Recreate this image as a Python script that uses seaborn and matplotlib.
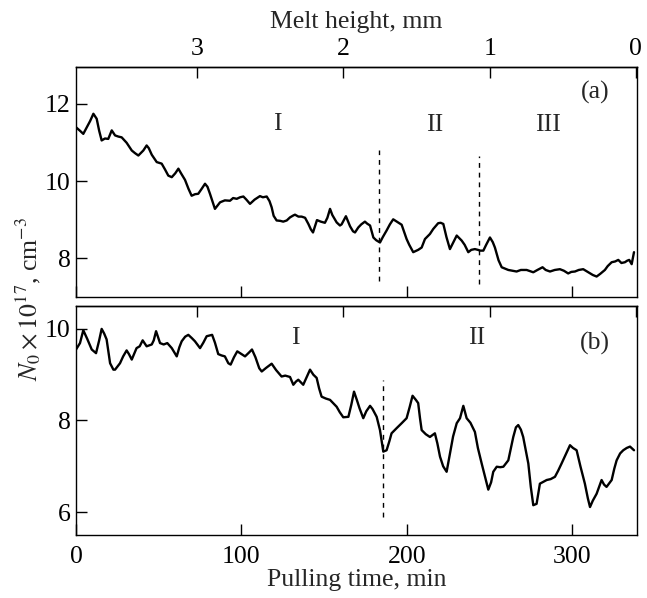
import matplotlib; matplotlib.use("Agg")
import matplotlib.pyplot as plt
import numpy as np
import seaborn as sns

# ──────────────────────────────────────────────────────────
# Data
# ──────────────────────────────────────────────────────────
time_a = [0, 2.4, 4.4, 6.5, 8.5, 10.5, 12.5, 14.0, 15.5, 17.5, 19.5, 21.6, 23.6, 25.6,
          27.6, 30.6, 33.7, 35.7, 37.7, 40.7, 42.7, 44.0, 45.8, 48.8, 51.8, 53.8, 55.8,
          57.9, 60, 61.9, 63.5, 65.9, 68, 69.9, 72, 73.9, 76, 78.0, 79.5, 81, 84, 87.1,
          90, 93.1, 95, 97.2, 99.2, 101.2, 103, 105.2, 108, 111.2, 113, 115.3, 117,
          118.3, 119.5, 121.3, 123.5, 125.3, 127.4, 129.4, 131.4, 132.4, 134.5, 136.4,
          138.5, 139.4, 140.5, 142, 143.3, 145.7, 148, 150.5, 152, 153.6, 155, 157.6,
          159.6, 160.6, 163.2, 165.7, 167.5, 168.7, 170.7, 172.5, 174.7, 176, 177.8,
          179.8, 181.5, 183.8, 185.5, 187.8, 189.8, 191.8, 194, 196.9, 199.9, 201.5,
          203.9, 206.9, 209, 211, 214, 216, 219, 220.5, 222.1, 224, 226.1, 228, 230.2,
          233.2, 235, 237.2, 239, 241.2, 243, 244.5, 246.3, 248, 250.3, 252, 253.3,
          255.5, 257.4, 261.4, 264, 266.4, 269, 272.5, 276.5, 279, 282.1, 284, 286.6,
          289.5, 292.6, 295, 297.6, 299.5, 301.7, 304, 306.7, 309, 310.8, 312.5, 314.8,
          317, 319.8, 321.5, 323.9, 326, 327.9, 329.8, 331.9, 333.3, 334.5, 336, 337.4]
conc_a = [11.39, 11.30, 11.22, 11.39, 11.55, 11.74, 11.61, 11.30, 11.05, 11.10, 11.09,
          11.31, 11.18, 11.15, 11.13, 10.99, 10.79, 10.72, 10.66, 10.79, 10.92, 10.85,
          10.68, 10.49, 10.45, 10.30, 10.14, 10.10, 10.20, 10.32, 10.20, 10.03, 9.80,
          9.62, 9.66, 9.67, 9.80, 9.93, 9.85, 9.67, 9.28, 9.45, 9.50, 9.49, 9.56, 9.54,
          9.58, 9.60, 9.52, 9.41, 9.52, 9.61, 9.58, 9.60, 9.48, 9.32, 9.10, 8.98, 8.97,
          8.95, 8.98, 9.06, 9.11, 9.13, 9.08, 9.08, 9.05, 8.98, 8.89, 8.75, 8.67, 8.99,
          8.95, 8.92, 9.05, 9.28, 9.12, 8.93, 8.85, 8.88, 9.09, 8.83, 8.70, 8.67, 8.80,
          8.88, 8.95, 8.90, 8.85, 8.54, 8.47, 8.41, 8.55, 8.72, 8.88, 9.01, 8.95, 8.87,
          8.50, 8.35, 8.16, 8.22, 8.28, 8.50, 8.63, 8.76, 8.91, 8.92, 8.89, 8.55, 8.24,
          8.40, 8.59, 8.46, 8.35, 8.16, 8.22, 8.24, 8.22, 8.20, 8.20, 8.35, 8.54, 8.42,
          8.28, 7.95, 7.77, 7.70, 7.68, 7.66, 7.70, 7.70, 7.64, 7.70, 7.77, 7.70, 7.66,
          7.70, 7.72, 7.68, 7.61, 7.65, 7.66, 7.70, 7.72, 7.66, 7.61, 7.57, 7.53, 7.60,
          7.70, 7.80, 7.90, 7.92, 7.96, 7.88, 7.90, 7.94, 7.96, 7.85, 8.16]

time_b = [0, 2.4, 4.4, 6.8, 9.5, 12.1, 14, 15.5, 17, 18.5, 20.6, 22.6, 23.6, 26.6, 28.5,
          30.6, 32, 33.7, 36.6, 38.5, 40.3, 42.7, 45.8, 47, 48.4, 50.8, 53, 55.2, 57.9,
          60.9, 62.5, 63.9, 66, 67.9, 70, 71.9, 75, 77, 79, 82.3, 84, 86, 88, 90, 92.1,
          93.5, 95.5, 97.5, 100, 102.2, 104.5, 106.4, 108.5, 110.8, 112.3, 115, 118.3,
          121, 124.3, 126.5, 129.4, 131.4, 133, 134.4, 137.4, 139.5, 141.5, 143.5, 145.5,
          147, 148.5, 151, 153.6, 155.5, 157.6, 159.5, 161.6, 164.7, 166.5, 168.1, 169.8,
          171.4, 173.7, 175.5, 177.8, 179.3, 181.8, 183.8, 185.8, 187.8, 189.5, 190.8,
          193.8, 196.9, 199.9, 201.8, 203.5, 205.5, 206.9, 208, 209, 211.5, 214, 217,
          218.5, 220.1, 222, 224.1, 226.1, 228, 230.2, 232.2, 234.2, 236.2, 238.5, 241.2,
          243, 245.3, 247.5, 249.3, 251, 252.3, 254.4, 256.5, 258.4, 261.4, 263, 264.4,
          266, 267.4, 269, 270.4, 273.5, 275, 276.5, 278.5, 280.5, 284.6, 287, 289.6,
          291.5, 293.6, 296, 298.7, 300.5, 302.7, 305, 307.7, 309.5, 310.8, 312.5, 314.8,
          317.8, 319.3, 320.8, 323.9, 325.5, 326.9, 329, 330.9, 333, 335, 337.4]
conc_b = [9.55, 9.69, 9.97, 9.78, 9.55, 9.47, 9.75, 10.00, 9.90, 9.77, 9.25, 9.11, 9.11,
          9.25, 9.40, 9.53, 9.45, 9.33, 9.58, 9.62, 9.75, 9.62, 9.66, 9.75, 9.95, 9.69,
          9.66, 9.69, 9.58, 9.40, 9.60, 9.73, 9.83, 9.87, 9.80, 9.73, 9.58, 9.70, 9.84,
          9.87, 9.70, 9.45, 9.42, 9.40, 9.25, 9.22, 9.38, 9.51, 9.45, 9.40, 9.48, 9.55,
          9.38, 9.14, 9.07, 9.15, 9.24, 9.10, 8.96, 8.98, 8.95, 8.78, 8.85, 8.89, 8.78,
          8.95, 9.11, 9.00, 8.93, 8.70, 8.52, 8.48, 8.45, 8.38, 8.30, 8.18, 8.07, 8.08,
          8.35, 8.63, 8.45, 8.27, 8.05, 8.20, 8.32, 8.25, 8.08, 7.79, 7.32, 7.35, 7.55,
          7.72, 7.83, 7.94, 8.05, 8.30, 8.54, 8.45, 8.38, 8.05, 7.79, 7.70, 7.64, 7.72,
          7.50, 7.21, 7.00, 6.88, 7.28, 7.65, 7.94, 8.05, 8.32, 8.05, 7.95, 7.75, 7.40,
          7.06, 6.75, 6.49, 6.65, 6.88, 6.99, 6.98, 6.99, 7.13, 7.40, 7.64, 7.85, 7.90,
          7.80, 7.64, 7.06, 6.55, 6.15, 6.18, 6.62, 6.70, 6.72, 6.77, 6.90, 7.06, 7.25,
          7.46, 7.40, 7.35, 7.00, 6.62, 6.30, 6.11, 6.25, 6.40, 6.70, 6.60, 6.55, 6.70,
          6.95, 7.13, 7.28, 7.35, 7.40, 7.43, 7.35]

# regime boundaries (time, lower end, upper end)
bounds_a = [(183.4, 7.42, 10.79), (243.7, 7.34, 10.66)]
bounds_b = [(185.8, 5.89, 8.89)]

# regime labels (text, time, value)
regimes_a = [("I", 122, 11.48), ("II", 217, 11.44), ("III", 285.5, 11.44)]
regimes_b = [("I", 132.4, 9.80), ("II", 242.2, 9.80)]

time_ticks = [0, 100, 200, 300]
melt_ticks = [3, 2, 1, 0]
T_END = 338.5      # time where melt height reaches 0
MIN_PER_MM = 88.4  # pulling minutes per mm of melt height

FS = 18.5

# ──────────────────────────────────────────────────────────
# Style
# ──────────────────────────────────────────────────────────
sns.set_theme(style="ticks")
plt.rcParams.update({
    "font.family": ["Liberation Serif", "DejaVu Serif"],
    "mathtext.fontset": "stix",
    "font.size": FS,
    "axes.labelsize": FS,
    "axes.linewidth": 1.0,
    "axes.edgecolor": "black",
    "xtick.direction": "in",
    "ytick.direction": "in",
    "xtick.major.size": 8,
    "ytick.major.size": 8,
    "xtick.major.width": 1.0,
    "ytick.major.width": 1.0,
    "xtick.color": "black",
    "ytick.color": "black",
    "xtick.labelsize": FS,
    "ytick.labelsize": FS,
    "xtick.major.pad": 8,
    "ytick.major.pad": 4,
})


def t_to_h(t):
    return (T_END - np.asarray(t, dtype=float)) / MIN_PER_MM


def h_to_t(h):
    return T_END - np.asarray(h, dtype=float) * MIN_PER_MM


fig = plt.figure(figsize=(6.47, 5.98), dpi=100)
ax_a = fig.add_axes([0.1175, 0.5033, 0.867, 0.3847])
ax_b = fig.add_axes([0.1175, 0.1054, 0.867, 0.3829])

panels = [
    (ax_a, time_a, conc_a, bounds_a, regimes_a, "(a)", 12.3, (7.0, 12.95), [8, 10, 12]),
    (ax_b, time_b, conc_b, bounds_b, regimes_b, "(b)", 9.69, (5.5, 10.5), [6, 8, 10]),
]

for ax, tt, nn, bounds, regimes, tag, tag_y, ylim, yticks in panels:
    sns.lineplot(x=tt, y=nn, ax=ax, color="black", linewidth=1.7, sort=False,
                 estimator=None)
    for t, lo, hi in bounds:
        ax.plot([t, t], [lo, hi], color="black", linewidth=1.0, dashes=(3.5, 3.5))
    for txt, t, v in regimes:
        ax.text(t, v, txt, ha="center", va="center", fontsize=FS)
    ax.text(313.8, tag_y, tag, ha="center", va="center", fontsize=FS)

    ax.set_xlim(0, 339.2)
    ax.set_ylim(*ylim)
    ax.set_xticks(time_ticks)
    ax.set_yticks(yticks)
    ax.set_xlabel("")
    ax.set_ylabel("")
    ax.tick_params(right=False, top=False)
    for sp in ax.spines.values():
        sp.set_visible(True)

    sec = ax.secondary_xaxis("top", functions=(t_to_h, h_to_t))
    sec.set_xticks(melt_ticks)
    sec.tick_params(direction="in", length=8, width=1.0, pad=5)

    if ax is ax_a:
        sec.set_xticklabels([str(h) for h in melt_ticks])
        sec.set_xlabel("Melt height, mm", fontsize=FS, labelpad=7)
        ax.tick_params(labelbottom=False)
    else:
        sec.set_xticklabels([])
        ax.set_xticklabels([str(t) for t in time_ticks])
        ax.set_xlabel("Pulling time, min", fontsize=FS, labelpad=1)

fig.text(0.043, 0.5, r"$N_0 \times 10^{17}$, cm$^{-3}$", rotation=90,
         ha="center", va="center", fontsize=FS)

fig.savefig("out.png", dpi=100)
plt.close(fig)
